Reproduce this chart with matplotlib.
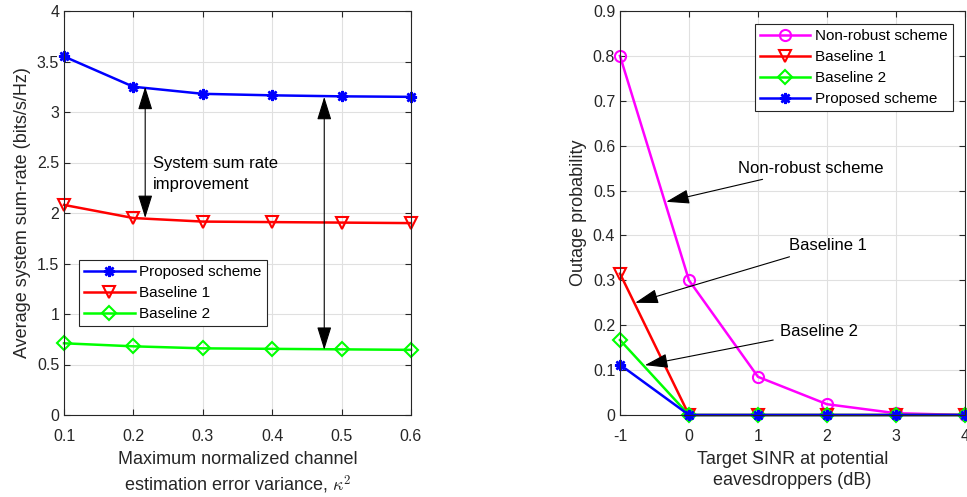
import matplotlib.pyplot as plt
import numpy as np

plt.rcParams['font.family'] = ['Liberation Sans', 'DejaVu Sans']
plt.rcParams['mathtext.fontset'] = 'cm'

# left panel data
kappa = [0.1, 0.2, 0.3, 0.4, 0.5, 0.6]
rate_proposed = [3.55, 3.25, 3.18, 3.165, 3.155, 3.15]
rate_base1 = [2.08, 1.95, 1.915, 1.91, 1.905, 1.90]
rate_base2 = [0.71, 0.68, 0.66, 0.655, 0.65, 0.645]

# right panel data
sinr = [-1, 0, 1, 2, 3, 4]
out_nonrobust = [0.80, 0.30, 0.085, 0.024, 0.004, 0.0]
out_base1 = [0.315, 0, 0, 0, 0, 0]
out_base2 = [0.167, 0, 0, 0, 0, 0]
out_proposed = [0.112, 0, 0, 0, 0, 0]

asterisk = (8, 2, 0)
lw = 1.8
head = '-|>,head_length=0.9,head_width=0.28'
dhead = '<|-|>,head_length=0.9,head_width=0.28'

def style(ax):
    ax.grid(True, color='#e0e0e0', linewidth=0.8)
    ax.set_axisbelow(True)
    ax.tick_params(direction='in', top=True, right=True, labelsize=11.5, colors='#262626', length=4)
    ax.tick_params(axis='x', pad=10)
    for s in ax.spines.values():
        s.set_color('#262626')
        s.set_linewidth(0.8)
    for ln in ax.lines:
        ln.set_clip_on(False)

fig = plt.figure(figsize=(9.67, 4.97), dpi=100)

ax1 = fig.add_axes([64/967, 82/497, 347/967, 404/497])
ax1.plot(kappa, rate_proposed, color='b', lw=lw, marker=asterisk, ms=8, mew=1.8, label='Proposed scheme')
ax1.plot(kappa, rate_base1, color='r', lw=lw, marker='v', ms=9, mfc='none', mew=1.5, label='Baseline 1')
ax1.plot(kappa, rate_base2, color=(0, 1, 0), lw=lw, marker='D', ms=7, mfc='none', mew=1.5, label='Baseline 2')
ax1.set_xlim(0.1, 0.6)
ax1.set_ylim(0, 4)
ax1.set_xticks(kappa)
ax1.set_xticklabels(['0.1', '0.2', '0.3', '0.4', '0.5', '0.6'])
ax1.set_yticks(np.arange(0, 4.01, 0.5))
ax1.set_yticklabels(['0', '0.5', '1', '1.5', '2', '2.5', '3', '3.5', '4'])
style(ax1)
ax1.set_xlabel('Maximum normalized channel\nestimation error variance, $\\kappa^2$', fontsize=13,
               color='#262626', linespacing=1.3, labelpad=5)
ax1.set_ylabel('Average system sum-rate (bits/s/Hz)', fontsize=13, color='#262626')
ax1.annotate('', xy=(0.217, 3.25), xytext=(0.217, 1.95),
             arrowprops=dict(arrowstyle=dhead, color='k', lw=0.8, mutation_scale=16, shrinkA=0, shrinkB=0))
ax1.annotate('', xy=(0.475, 3.15), xytext=(0.475, 0.645),
             arrowprops=dict(arrowstyle=dhead, color='k', lw=0.8, mutation_scale=16, shrinkA=0, shrinkB=0))
ax1.text(0.228, 2.39, 'System sum rate\nimprovement', fontsize=12, va='center', ha='left', linespacing=1.5)
leg1 = ax1.legend(loc='upper left', bbox_to_anchor=(0.043, 0.384), borderaxespad=0, fontsize=11,
                  fancybox=False, edgecolor='#262626', framealpha=1, handlelength=3.3,
                  borderpad=0.35, labelspacing=0.45, handletextpad=0.3)
leg1.get_frame().set_linewidth(0.8)

ax2 = fig.add_axes([620/967, 82/497, 345/967, 404/497])
ax2.plot(sinr, out_nonrobust, color=(1, 0, 1), lw=lw, marker='o', ms=8, mfc='none', mew=1.5, label='Non-robust scheme')
ax2.plot(sinr, out_base1, color='r', lw=lw, marker='v', ms=9, mfc='none', mew=1.5, label='Baseline 1')
ax2.plot(sinr, out_base2, color=(0, 1, 0), lw=lw, marker='D', ms=7, mfc='none', mew=1.5, label='Baseline 2')
ax2.plot(sinr, out_proposed, color='b', lw=lw, marker=asterisk, ms=8, mew=1.8, label='Proposed scheme')
ax2.set_xlim(-1, 4)
ax2.set_ylim(0, 0.9)
ax2.set_xticks(sinr)
ax2.set_xticklabels(['-1', '0', '1', '2', '3', '4'])
ax2.set_yticks(np.arange(0, 0.91, 0.1))
ax2.set_yticklabels(['0', '0.1', '0.2', '0.3', '0.4', '0.5', '0.6', '0.7', '0.8', '0.9'])
style(ax2)
ax2.set_xlabel('Target SINR at potential\neavesdroppers (dB)', fontsize=13, color='#262626',
               linespacing=1.3, labelpad=5)
ax2.set_ylabel('Outage probability', fontsize=13, color='#262626')
ax2.annotate('Non-robust scheme', xy=(-0.33, 0.475), xytext=(0.71, 0.55), fontsize=12, va='center',
             arrowprops=dict(arrowstyle=head, color='k', lw=0.8, mutation_scale=16, shrinkA=3, shrinkB=0))
ax2.annotate('Baseline 1', xy=(-0.78, 0.25), xytext=(1.45, 0.378), fontsize=12, va='center',
             arrowprops=dict(arrowstyle=head, color='k', lw=0.8, mutation_scale=16, shrinkA=3, shrinkB=0))
ax2.annotate('Baseline 2', xy=(-0.64, 0.111), xytext=(1.32, 0.187), fontsize=12, va='center',
             arrowprops=dict(arrowstyle=head, color='k', lw=0.8, mutation_scale=16, shrinkA=3, shrinkB=0))
leg2 = ax2.legend(loc='upper right', bbox_to_anchor=(0.965, 0.968), borderaxespad=0, fontsize=11,
                  fancybox=False, edgecolor='#262626', framealpha=1, handlelength=3.3,
                  borderpad=0.35, labelspacing=0.45, handletextpad=0.3)
leg2.get_frame().set_linewidth(0.8)

fig.savefig('out.png', dpi=100)
